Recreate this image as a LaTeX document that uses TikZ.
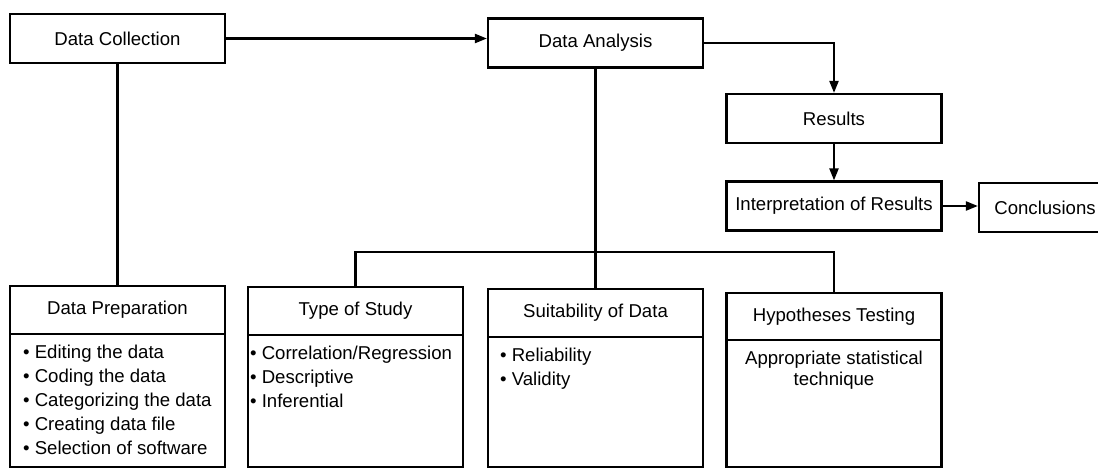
\documentclass[tikz,border=0pt]{standalone}
\usepackage{fontspec}
\setmainfont{Liberation Sans}
\usetikzlibrary{arrows.meta,positioning}

\begin{document}
\begin{tikzpicture}[x=1pt,y=-1pt,font=\fontsize{18.6}{24}\selectfont,
  box/.style={draw,line width=2.2pt,minimum width=215pt,minimum height=49pt,inner sep=0pt},
  body/.style={draw,line width=2.2pt,minimum width=215pt,inner sep=0pt,below=-2.2pt of #1},
  items/.style={align=left,inner sep=0pt,anchor=north west},
  line/.style={line width=2.2pt},
  arr/.style={line width=2.2pt,-{Triangle[length=12pt,width=9pt]}}]
\useasboundingbox (0,0) rectangle (1098,469);

% top row
\node[box] (coll) at (117.5,38.5) {Data Collection};
\node[box] (anal) at (595.5,43) {Data Analysis};
\node[box] (res) at (834,118.5) {Results};
\node[box] (interp) at (834,206) {Interpretation of Results};
\node[box,minimum width=132pt] (concl) at (1045,207.5) {Conclusions};

% bottom row
\node[box,minimum height=48pt] (prep) at (117.5,310) {Data Preparation};
\node[body=prep,minimum height=133pt] (prepbody) {};
\node[box,minimum height=48pt] (type) at (355.5,311) {Type of Study};
\node[body=type,minimum height=132pt] (typebody) {};
\node[box,minimum height=48pt] (suit) at (595.5,313) {Suitability of Data};
\node[body=suit,minimum height=130pt] (suitbody) {};
\node[box,minimum height=47pt] (hyp) at (834,316.5) {Hypotheses Testing};
\node[body=hyp,minimum height=127pt] (hypbody) {};

\node[items] (prepitems) at ([xshift=14pt,yshift=-12pt]prepbody.north west)
  {• Editing the data\\• Coding the data\\• Categorizing the data\\• Creating data file\\• Selection of software};
\node[items] (typeitems) at ([xshift=3pt,yshift=-12pt]typebody.north west)
  {• Correlation/Regression\\• Descriptive\\• Inferential};
\node[items] (suititems) at ([xshift=13pt,yshift=-12pt]suitbody.north west)
  {• Reliability\\• Validity};
\node[align=center,inner sep=0pt,anchor=north,font=\fontsize{18.6}{21}\selectfont] (hypitems)
  at ([yshift=-12pt]hypbody.north) {Appropriate statistical\\technique};

% connectors
\coordinate (bus) at (595.5,252);
\draw[arr] (coll.east) -- (coll.east -| anal.west);
\draw[arr] (anal.east) -| (res.north);
\draw[arr] (res) -- (interp);
\draw[arr] (interp.east) -- (interp.east -| concl.west);
\draw[line] (coll) -- (prep);
\draw[line] (anal) -- (suit);
\draw[line] (type.north) |- (bus) -| (hyp.north);
\end{tikzpicture}
\end{document}
